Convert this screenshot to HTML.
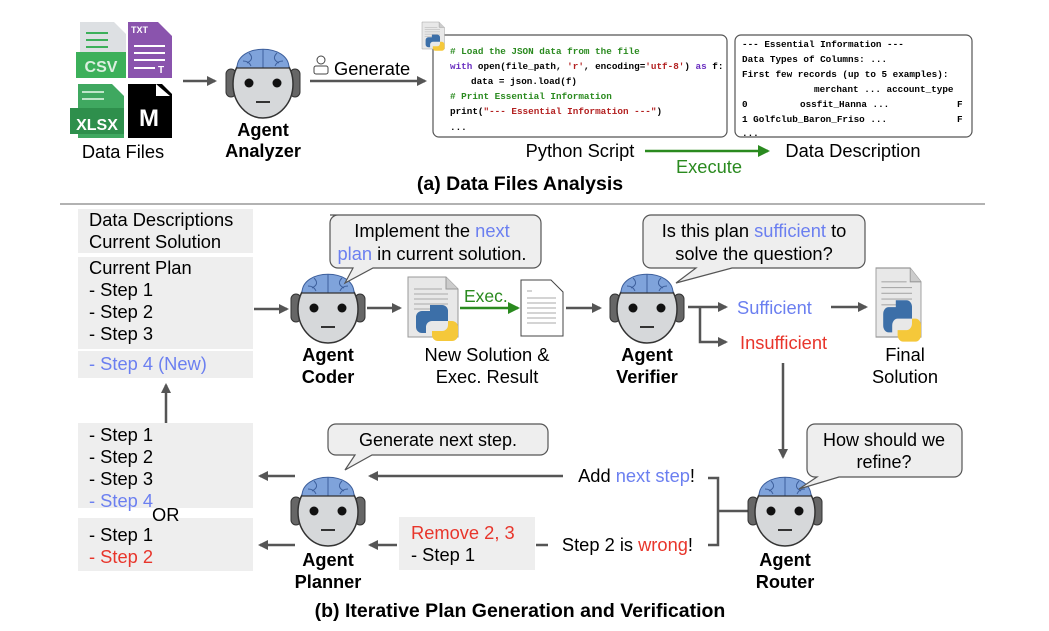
<!DOCTYPE html>
<html><head><meta charset="utf-8"><style>
body{margin:0;background:#fff}
svg{display:block}
text{font-family:"Liberation Sans",sans-serif;}
.m{font-family:"Liberation Mono",monospace;font-weight:bold;font-size:9.3px}
.b{font-weight:bold}
</style></head><body>
<svg width="1049" height="631" viewBox="0 0 1049 631" xmlns="http://www.w3.org/2000/svg">
<defs>
<marker id="ah" markerWidth="10" markerHeight="10" refX="8" refY="5" orient="auto" markerUnits="userSpaceOnUse"><path d="M0,0 L10,5 L0,10 z" fill="#555"/></marker>
<marker id="ag" markerWidth="12" markerHeight="12" refX="10" refY="6" orient="auto" markerUnits="userSpaceOnUse"><path d="M0,0 L12,6 L0,12 z" fill="#2a8a1f"/></marker>
<g id="robot">
<rect x="-37" y="-14" width="10" height="28" rx="5" fill="#666" stroke="#333"/>
<rect x="27" y="-14" width="10" height="28" rx="5" fill="#666" stroke="#333"/>
<ellipse cx="0" cy="1" rx="30" ry="34" fill="#d6d8da" stroke="#333" stroke-width="1.5"/>
<path d="M-26,-15 C-26,-40 26,-40 26,-15 Z" fill="#7fa3db" stroke="#3d5f9c" stroke-width="1"/>
<path d="M0,-34 V-15 M-14,-30 q6,6 -2,10 M14,-30 q-6,6 2,10 M-20,-22 q6,0 8,5 M20,-22 q-6,0 -8,5" stroke="#3d5f9c" fill="none" stroke-width="1"/>
<line x1="-27" y1="-15" x2="27" y2="-15" stroke="#333" stroke-width="1.2"/>
<circle cx="-14" cy="0" r="4.5" fill="#111"/><circle cx="14" cy="0" r="4.5" fill="#111"/>
<line x1="-7" y1="19" x2="7" y2="19" stroke="#333" stroke-width="2"/>
</g>
<g id="pydoc">
<path d="M0,0 H38 L50,12 V60 H0 Z" fill="#e8e8e8" stroke="#999"/>
<path d="M38,0 V12 H50" fill="#ccc" stroke="#999"/>
<g stroke="#aaa" stroke-width="1"><line x1="6" y1="12" x2="34" y2="12"/><line x1="6" y1="17" x2="40" y2="17"/><line x1="6" y1="22" x2="40" y2="22"/><line x1="6" y1="27" x2="40" y2="27"/><line x1="6" y1="32" x2="30" y2="32"/></g>
<path d="M22,28 h12 a6,6 0 0 1 6,6 v10 h-16 a6,6 0 0 0 -6,6 v6 h-4 a6,6 0 0 1 -6,-6 v-10 a6,6 0 0 1 6,-6 h8z" fill="#3c6fa8"/>
<path d="M40,44 h4 a6,6 0 0 1 6,6 v8 a6,6 0 0 1 -6,6 h-14 a6,6 0 0 1 -6,-6 v-4 h10 a6,6 0 0 0 6,-6z" fill="#f5c83a"/>
</g>
</defs>

<!-- (a) -->
<path d="M80,22 h34 l12,12 v26 h-46z" fill="#dde0e3"/>
<rect x="76" y="52" width="50" height="26" fill="#3cb05a"/>
<g stroke="#3cb05a" stroke-width="2"><line x1="86" y1="33" x2="108" y2="33"/><line x1="86" y1="40" x2="108" y2="40"/><line x1="86" y1="47" x2="108" y2="47"/></g>
<text x="101" y="72" font-size="16" fill="#dcefe0" text-anchor="middle" font-weight="bold">CSV</text>
<path d="M128,22 h30 l14,14 v42 h-44z" fill="#8a54ad"/>
<text x="131" y="33" font-size="9" fill="#fff" font-weight="bold">TXT</text>
<g stroke="#fff" stroke-width="2"><line x1="134" y1="46" x2="165" y2="46"/><line x1="134" y1="53" x2="165" y2="53"/><line x1="134" y1="60" x2="165" y2="60"/><line x1="134" y1="68" x2="155" y2="68"/></g>
<text x="158" y="73" font-size="10" fill="#fff" font-weight="bold">T</text>
<path d="M78,84 h34 l12,12 v42 h-46z" fill="#3fa860"/>
<rect x="70" y="108" width="54" height="26" fill="#2e8f4c"/>
<g stroke="#bfe5c9" stroke-width="2"><line x1="82" y1="92" x2="104" y2="92"/><line x1="82" y1="99" x2="104" y2="99"/></g>
<text x="97" y="130" font-size="16" fill="#fff" text-anchor="middle" font-weight="bold">XLSX</text>
<path d="M128,84 h34 l10,10 v44 h-44z" fill="#000"/>
<path d="M156,84 v12 h14" fill="#fff"/>
<text x="149" y="126" font-size="24" fill="#fff" text-anchor="middle" font-weight="bold">M</text>
<text x="123" y="158" font-size="18.3" text-anchor="middle">Data Files</text>
<line x1="183" y1="81" x2="215" y2="81" stroke="#555" stroke-width="2.5" marker-end="url(#ah)"/>
<use href="#robot" x="263" y="83"/>
<text x="263" y="136" font-size="18.2" class="b" text-anchor="middle">Agent</text>
<text x="263" y="157" font-size="18.2" class="b" text-anchor="middle">Analyzer</text>
<circle cx="321" cy="60" r="4" fill="none" stroke="#444"/>
<rect x="314" y="66" width="14" height="8" rx="2" fill="none" stroke="#444"/>
<text x="334" y="75" font-size="18.3">Generate</text>
<line x1="310" y1="81" x2="425" y2="81" stroke="#555" stroke-width="2.5" marker-end="url(#ah)"/>
<rect x="433" y="35" width="294" height="102" rx="6" fill="#fff" stroke="#555" stroke-width="1.2"/>
<use href="#pydoc" transform="translate(422,22) scale(0.45)"/>
<text class="m" x="450" y="54" fill="#2a8a1f"># Load the JSON data from the file</text>
<text class="m" x="450" y="69"><tspan fill="#6a2fc0">with</tspan> open(file_path, <tspan fill="#b32020">'r'</tspan>, encoding=<tspan fill="#b32020">'utf-8'</tspan>) <tspan fill="#6a2fc0">as</tspan> f:</text>
<text class="m" x="471" y="84">data = json.load(f)</text>
<text class="m" x="450" y="99" fill="#2a8a1f"># Print Essential Information</text>
<text class="m" x="450" y="114">print(<tspan fill="#b32020">"--- Essential Information ---"</tspan>)</text>
<text class="m" x="450" y="130">...</text>
<rect x="735" y="35" width="237" height="102" rx="6" fill="#fff" stroke="#555" stroke-width="1.2"/>
<text class="m" x="742" y="47">--- Essential Information ---</text>
<text class="m" x="742" y="62">Data Types of Columns: ...</text>
<text class="m" x="742" y="77">First few records (up to 5 examples):</text>
<text class="m" x="814" y="92">merchant ... account_type</text>
<text class="m" x="742" y="107">0</text><text class="m" x="800" y="107">ossfit_Hanna ...</text><text class="m" x="957" y="107">F</text>
<text class="m" x="742" y="122">1 Golfclub_Baron_Friso ...</text><text class="m" x="957" y="122">F</text>
<text class="m" x="742" y="136">...</text>
<text x="580" y="157" font-size="18.3" text-anchor="middle">Python Script</text>
<line x1="645" y1="151" x2="768" y2="151" stroke="#2a8a1f" stroke-width="2.5" marker-end="url(#ag)"/>
<text x="709" y="173" font-size="18.3" fill="#2a8a1f" text-anchor="middle">Execute</text>
<text x="853" y="157" font-size="18.3" text-anchor="middle">Data Description</text>
<text x="520" y="190" font-size="19.5" class="b" text-anchor="middle">(a) Data Files Analysis</text>
<line x1="60" y1="204" x2="985" y2="204" stroke="#999" stroke-width="1.5"/>

<!-- (b) left boxes -->
<rect x="78" y="209" width="175" height="44" fill="#eee"/>
<text x="89" y="226" font-size="18.3">Data Descriptions</text>
<text x="89" y="248" font-size="18.3">Current Solution</text>
<rect x="78" y="257" width="175" height="92" fill="#eee"/>
<text x="89" y="274" font-size="18.3">Current Plan</text>
<text x="89" y="296" font-size="18.3">- Step 1</text>
<text x="89" y="318" font-size="18.3">- Step 2</text>
<text x="89" y="340" font-size="18.3">- Step 3</text>
<rect x="78" y="351" width="175" height="27" fill="#eee"/>
<text x="89" y="370" font-size="18.3" fill="#6b7ff0">- Step 4 (New)</text>
<line x1="166" y1="423" x2="166" y2="385" stroke="#555" stroke-width="2.5" marker-end="url(#ah)"/>
<line x1="254" y1="309" x2="287" y2="309" stroke="#555" stroke-width="2.5" marker-end="url(#ah)"/>
<use href="#robot" x="328" y="308"/>
<text x="328" y="361" font-size="18.2" class="b" text-anchor="middle">Agent</text>
<text x="328" y="383" font-size="18.2" class="b" text-anchor="middle">Coder</text>
<path d="M330,215 h203 a8,8 0 0 1 8,8 v37 a8,8 0 0 1 -8,8 h-160 l-28,15 l8,-15 h-15 a8,8 0 0 1 -8,-8 v-37 a8,8 0 0 1 8,-8z" fill="#eee" stroke="#555" stroke-width="1.2"/>
<text x="432" y="237" font-size="18.3" text-anchor="middle">Implement the <tspan fill="#6b7ff0">next</tspan></text>
<text x="432" y="260" font-size="18.3" text-anchor="middle"><tspan fill="#6b7ff0">plan</tspan> in current solution.</text>
<line x1="367" y1="308" x2="400" y2="308" stroke="#555" stroke-width="2.5" marker-end="url(#ah)"/>
<use href="#pydoc" transform="translate(408,277)"/>
<line x1="460" y1="308" x2="518" y2="308" stroke="#2a8a1f" stroke-width="2.5" marker-end="url(#ag)"/>
<text x="464" y="302" font-size="17.5" fill="#2a8a1f">Exec.</text>
<path d="M521,280 h30 l12,12 v44 h-42z" fill="#fff" stroke="#444"/>
<g stroke="#aaa"><line x1="527" y1="291" x2="532" y2="291"/><line x1="527" y1="298" x2="556" y2="298"/><line x1="527" y1="303" x2="556" y2="303"/><line x1="527" y1="308" x2="556" y2="308"/><line x1="527" y1="313" x2="556" y2="313"/><line x1="527" y1="318" x2="556" y2="318"/><line x1="527" y1="323" x2="556" y2="323"/></g>
<line x1="566" y1="308" x2="600" y2="308" stroke="#555" stroke-width="2.5" marker-end="url(#ah)"/>
<text x="487" y="361" font-size="18.3" text-anchor="middle">New Solution &amp;</text>
<text x="487" y="383" font-size="18.3" text-anchor="middle">Exec. Result</text>
<use href="#robot" x="647" y="308"/>
<text x="647" y="361" font-size="18.2" class="b" text-anchor="middle">Agent</text>
<text x="647" y="383" font-size="18.2" class="b" text-anchor="middle">Verifier</text>
<path d="M651,215 h206 a8,8 0 0 1 8,8 v37 a8,8 0 0 1 -8,8 h-125 l-56,15 l20,-15 h-45 a8,8 0 0 1 -8,-8 v-37 a8,8 0 0 1 8,-8z" fill="#eee" stroke="#555" stroke-width="1.2"/>
<text x="754" y="237" font-size="18.3" text-anchor="middle">Is this plan <tspan fill="#6b7ff0">sufficient</tspan> to</text>
<text x="754" y="260" font-size="18.3" text-anchor="middle">solve the question?</text>
<path d="M688,307 H726" stroke="#555" stroke-width="2.5" fill="none" marker-end="url(#ah)"/>
<path d="M700,307 V342 H726" stroke="#555" stroke-width="2.5" fill="none" marker-end="url(#ah)"/>
<text x="737" y="314" font-size="18.3" fill="#6b7ff0">Sufficient</text>
<text x="740" y="349" font-size="18.3" fill="#e8352b">Insufficient</text>
<line x1="831" y1="307" x2="866" y2="307" stroke="#555" stroke-width="2.5" marker-end="url(#ah)"/>
<use href="#pydoc" transform="translate(876,268) scale(0.9,1.15)"/>
<text x="905" y="361" font-size="18.3" text-anchor="middle">Final</text>
<text x="905" y="383" font-size="18.3" text-anchor="middle">Solution</text>
<line x1="783" y1="363" x2="783" y2="457" stroke="#555" stroke-width="2.5" marker-end="url(#ah)"/>

<!-- lower -->
<rect x="78" y="423" width="175" height="85" fill="#eee"/>
<text x="89" y="441" font-size="18.3">- Step 1</text>
<text x="89" y="463" font-size="18.3">- Step 2</text>
<text x="89" y="485" font-size="18.3">- Step 3</text>
<text x="89" y="507" font-size="18.3" fill="#6b7ff0">- Step 4</text>
<rect x="78" y="518" width="175" height="53" fill="#eee"/>
<text x="152" y="521" font-size="18.3">OR</text>
<text x="89" y="541" font-size="18.3">- Step 1</text>
<text x="89" y="563" font-size="18.3" fill="#e8352b">- Step 2</text>
<line x1="295" y1="476" x2="260" y2="476" stroke="#555" stroke-width="2.5" marker-end="url(#ah)"/>
<line x1="295" y1="545" x2="260" y2="545" stroke="#555" stroke-width="2.5" marker-end="url(#ah)"/>
<use href="#robot" x="328" y="511"/>
<text x="328" y="566" font-size="18.2" class="b" text-anchor="middle">Agent</text>
<text x="328" y="588" font-size="18.2" class="b" text-anchor="middle">Planner</text>
<path d="M336,424 h204 a8,8 0 0 1 8,8 v15 a8,8 0 0 1 -8,8 h-168 l-27,15 l10,-15 h-19 a8,8 0 0 1 -8,-8 v-15 a8,8 0 0 1 8,-8z" fill="#eee" stroke="#555" stroke-width="1.2"/>
<text x="438" y="446" font-size="18" text-anchor="middle">Generate next step.</text>
<line x1="563" y1="476" x2="370" y2="476" stroke="#555" stroke-width="2.5" marker-end="url(#ah)"/>
<text x="695" y="482" font-size="18.3" text-anchor="end">Add <tspan fill="#6b7ff0">next step</tspan>!</text>
<text x="693" y="551" font-size="18.3" text-anchor="end">Step 2 is <tspan fill="#e8352b">wrong</tspan>!</text>
<line x1="548" y1="545" x2="536" y2="545" stroke="#555" stroke-width="2.5"/>
<rect x="399" y="517" width="136" height="53" fill="#eee"/>
<text x="411" y="539" font-size="18.3" fill="#e8352b">Remove 2, 3</text>
<text x="411" y="561" font-size="18.3">- Step 1</text>
<line x1="397" y1="545" x2="370" y2="545" stroke="#555" stroke-width="2.5" marker-end="url(#ah)"/>
<path d="M708,478 H718 V545 H708 M718,511 H750" stroke="#555" stroke-width="2.5" fill="none"/>
<use href="#robot" x="785" y="511"/>
<text x="785" y="566" font-size="18.2" class="b" text-anchor="middle">Agent</text>
<text x="785" y="588" font-size="18.2" class="b" text-anchor="middle">Router</text>
<path d="M815,424 h139 a8,8 0 0 1 8,8 v37 a8,8 0 0 1 -8,8 h-115 l-40,12 l18,-12 h-2 a8,8 0 0 1 -8,-8 v-37 a8,8 0 0 1 8,-8z" fill="#eee" stroke="#555" stroke-width="1.2"/>
<text x="884" y="446" font-size="18" text-anchor="middle">How should we</text>
<text x="884" y="468" font-size="18" text-anchor="middle">refine?</text>
<text x="520" y="617" font-size="19.5" class="b" text-anchor="middle">(b) Iterative Plan Generation and Verification</text>
</svg>
</body></html>
